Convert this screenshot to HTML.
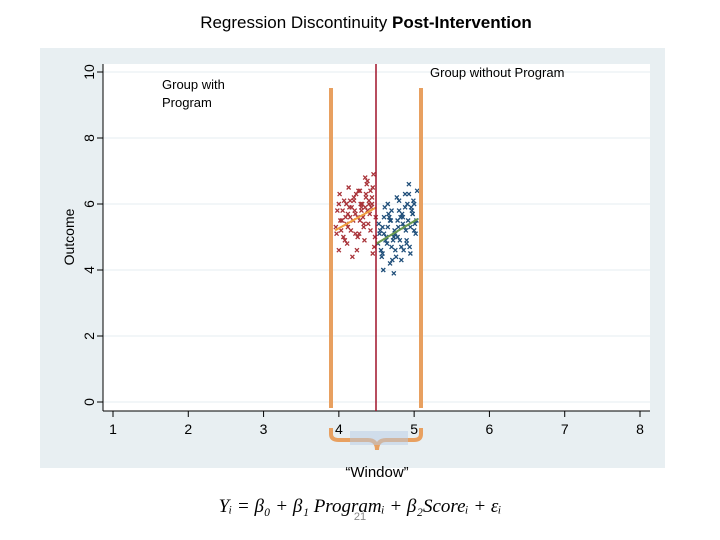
<!DOCTYPE html>
<html><head><meta charset="utf-8"><style>
body{margin:0;background:#fff;width:720px;height:540px;overflow:hidden;font-family:"Liberation Sans",sans-serif}
svg{position:absolute;left:0;top:0}
</style></head><body>
<svg width="720" height="540">
<text x="366" y="28" text-anchor="middle" font-size="17">Regression Discontinuity <tspan font-weight="bold">Post-Intervention</tspan></text>
<rect x="40" y="48" width="625" height="420" fill="#e8eff2"/>
<rect x="103" y="64" width="547" height="347" fill="#fff"/>
<g id="grid"></g>
<g id="axes"></g>
<g id="pts"></g>
<g id="fits"></g>
<line x1="376" y1="64" x2="376" y2="411" stroke="#a0142a" stroke-width="1.5"/>
<path d="M331 88 V408 M331 428 V434 Q331 440 339 440 H368 Q377 440 377 450 Q377 440 386 440 H414 Q421 440 421 434 V428 M421 408 V88" fill="none" stroke="#e8a060" stroke-width="4"/>
<rect x="350" y="431" width="58" height="14" fill="#b8cce4" opacity="0.5"/>
<text x="162" y="89" font-size="13">Group with</text>
<text x="162" y="107" font-size="13">Program</text>
<text x="430" y="77" font-size="13">Group without Program</text>
<text x="74" y="237" font-size="14" text-anchor="middle" transform="rotate(-90 74 237)">Outcome</text>
<text x="377" y="477" font-size="15" text-anchor="middle">“Window”</text>
<text x="360" y="512" font-size="19" text-anchor="middle" font-family="Liberation Serif,serif" font-style="italic">Yᵢ = β₀ + β₁ Programᵢ + β₂Scoreᵢ + εᵢ</text>
<text x="360" y="520" font-size="11" fill="#888" text-anchor="middle">21</text>
</svg>
<script>
const xTicks=[1,2,3,4,5,6,7,8];
const yTicks=[0,2,4,6,8,10];
const redX=[3.97,4.0,4.02,4.05,4.08,4.1,4.12,4.15,4.18,4.2,4.22,4.25,4.28,4.3,4.33,4.35,4.38,4.4,4.42,4.45,4.47,3.98,4.03,4.07,4.11,4.14,4.19,4.23,4.27,4.31,4.34,4.37,4.41,4.44,4.48,3.96,4.01,4.06,4.09,4.13,4.16,4.21,4.24,4.29,4.32,4.36,4.39,4.43,4.46,4.49,4.04,4.17,4.26,4.33,4.4,4.12,4.22,4.3,4.38,4.45,4.0,4.1,4.2,4.28,4.36,4.44,4.15,4.25,4.35,4.42];
const redY=[5.1,4.6,5.5,5.8,4.9,6.0,5.3,5.6,4.4,6.2,5.7,5.0,6.4,5.9,5.4,6.8,5.8,6.1,5.2,6.5,4.7,5.8,5.2,6.1,4.8,5.9,5.5,6.3,5.1,6.0,4.9,6.6,5.7,6.2,5.0,5.3,6.3,5.0,5.6,6.5,5.2,5.8,4.6,6.0,5.6,6.2,5.4,5.9,6.9,5.6,5.5,5.9,6.4,5.3,6.0,5.7,5.1,5.8,6.7,4.5,6.0,5.4,6.1,5.5,6.3,6.0,6.1,5.6,5.9,6.4];
const blueX=[4.52,4.55,4.57,4.6,4.62,4.65,4.68,4.7,4.73,4.75,4.78,4.8,4.83,4.85,4.88,4.9,4.93,4.95,4.98,5.0,5.03,4.54,4.58,4.61,4.64,4.67,4.71,4.74,4.77,4.81,4.84,4.87,4.91,4.94,4.97,5.01,5.04,4.56,4.63,4.69,4.76,4.82,4.89,4.96,5.02,4.59,4.66,4.72,4.79,4.86,4.92,4.99,4.53,4.6,4.7,4.8,4.9,5.0,4.65,4.75,4.85,4.95,4.58,4.68,4.78,4.88,4.98,4.73,4.83,4.93];
const blueY=[4.8,5.2,4.4,5.6,4.9,5.3,4.2,5.8,5.0,4.6,5.5,6.1,4.7,5.4,5.9,4.9,6.3,5.3,5.7,6.0,5.5,5.1,4.5,5.9,4.8,5.6,4.3,5.2,6.2,4.9,5.7,5.3,6.0,4.7,5.8,5.4,6.4,4.6,5.0,5.5,4.4,5.6,5.2,5.9,5.1,4.0,5.7,4.9,5.3,4.6,5.5,6.1,5.4,5.1,4.7,5.8,4.8,5.2,6.0,5.1,5.6,4.5,5.3,5.5,5.0,6.3,5.7,3.9,4.3,6.6];
const redFit=[[3.95,5.2],[4.5,5.9]];
const blueFit=[[4.5,4.8],[5.05,5.55]];
const X=v=>113+(v-1)*(640-113)/7;
const Y=v=>402-v*(402-72)/10;
const NS="http://www.w3.org/2000/svg";
function mk(t,a,p){const e=document.createElementNS(NS,t);for(const k in a)e.setAttribute(k,a[k]);p.appendChild(e);return e;}
const grid=document.getElementById('grid'),axes=document.getElementById('axes'),pts=document.getElementById('pts'),fits=document.getElementById('fits');
yTicks.forEach(t=>{
 const g=mk('line',{x1:103,x2:650,y1:Y(t),y2:Y(t),stroke:'#e6eef2','stroke-width':1},grid);
 
 
 const tk=mk('line',{x1:97,x2:103,y1:Y(t),y2:Y(t),stroke:'#000'},axes);
 
 
 const tx=mk('text',{x:94,y:Y(t),'font-size':14,'text-anchor':'middle',transform:`rotate(-90 94 ${Y(t)})`},axes);
 tx.textContent=t;
 
 
});
xTicks.forEach(t=>{
 const tk=mk('line',{x1:X(t),x2:X(t),y1:411,y2:417,stroke:'#000'},axes);
 
 
 const tx=mk('text',{x:X(t),y:434,'font-size':14,'text-anchor':'middle'},axes);
 tx.textContent=t;
 
 
});
const ya=mk('line',{x1:103,x2:103,y1:64,y2:411,stroke:'#000'},axes);


const xa=mk('line',{x1:103,x2:650,y1:411,y2:411,stroke:'#000'},axes);


function cross(x,y,c,name){
 const p=mk('path',{d:`M${x-2} ${y-2}L${x+2} ${y+2}M${x-2} ${y+2}L${x+2} ${y-2}`,stroke:c,'stroke-width':1.3},pts);
 
 
}
redX.forEach((v,i)=>cross(X(v),Y(redY[i]),'#a83238','point-with-program'));
blueX.forEach((v,i)=>cross(X(v),Y(blueY[i]),'#1f4e79','point-without-program'));
const rf=mk('line',{x1:X(redFit[0][0]),y1:Y(redFit[0][1]),x2:X(redFit[1][0]),y2:Y(redFit[1][1]),stroke:'#f0a040','stroke-width':2},fits);


const bf=mk('line',{x1:X(blueFit[0][0]),y1:Y(blueFit[0][1]),x2:X(blueFit[1][0]),y2:Y(blueFit[1][1]),stroke:'#6a9a50','stroke-width':2},fits);


</script>
</body></html>
